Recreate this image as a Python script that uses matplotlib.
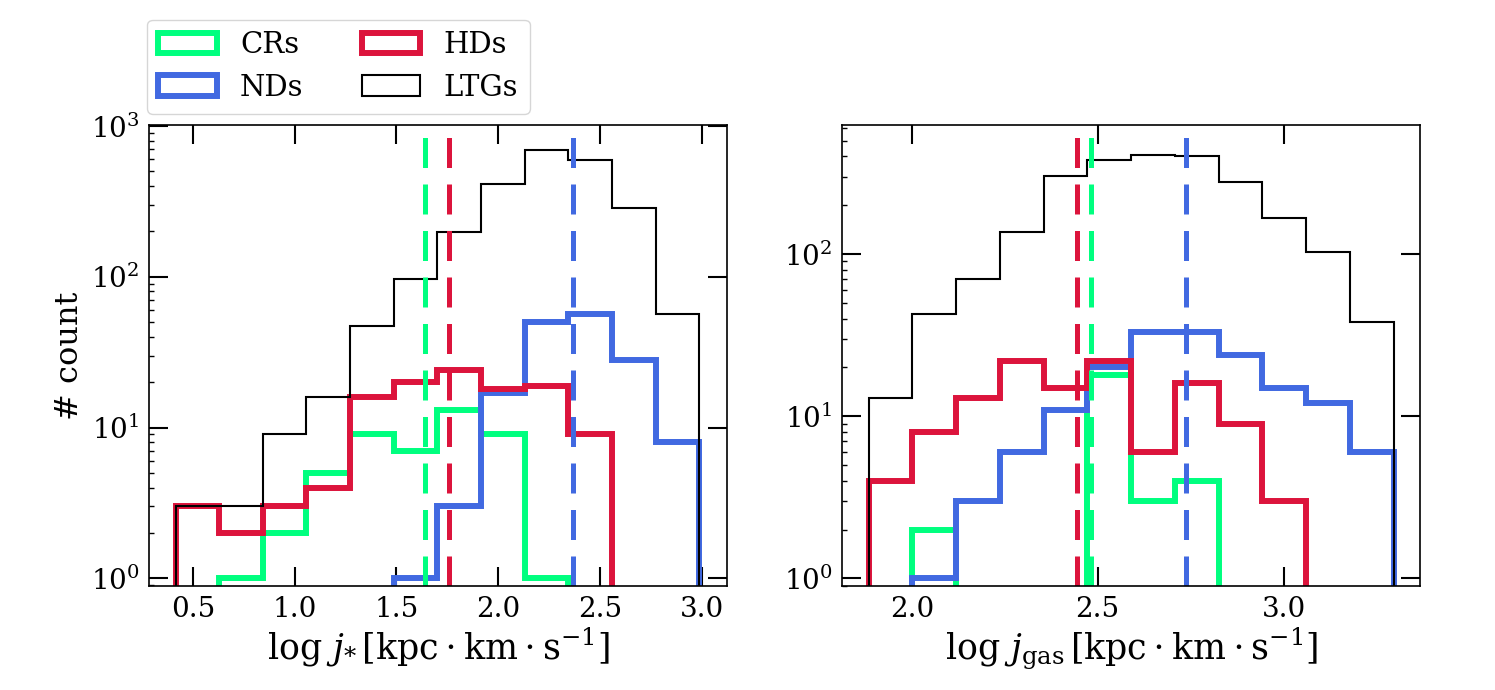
import numpy as np
import matplotlib
matplotlib.use('Agg')
import matplotlib.pyplot as plt

plt.rcParams['font.family'] = 'serif'
plt.rcParams['font.serif'] = ['DejaVu Serif']
plt.rcParams['mathtext.fontset'] = 'dejavuserif'

# histogram bins (log j_star, left) and (log j_gas, right)
jstar_lo, jstar_hi, nbins = 0.414, 2.989, 12
jgas_lo, jgas_hi = 1.884, 3.296

# counts per bin
jstar_crs = [0, 1, 2, 5, 9, 7, 13, 9, 1, 0, 0, 0]
jstar_nds = [0, 0, 0, 0, 0, 1, 3, 17, 50, 57, 28, 8]
jstar_hds = [3, 2, 3, 4, 16, 20, 24, 18, 19, 9, 0, 0]
jstar_ltgs = [3, 3, 9, 16, 47, 97, 198, 413, 689, 594, 286, 57]

jgas_crs = [0, 2, 0, 0, 0, 18, 3, 4, 0, 0, 0, 0]
jgas_nds = [0, 1, 3, 6, 11, 20, 33, 33, 24, 15, 12, 6]
jgas_hds = [4, 8, 13, 22, 15, 22, 6, 16, 9, 3, 0, 0]
jgas_ltgs = [13, 43, 70, 137, 302, 382, 410, 404, 277, 167, 103, 38]

# medians (dashed lines)
med_jstar = {'CRs': 1.639, 'HDs': 1.758, 'NDs': 2.369}
med_jgas = {'CRs': 2.481, 'HDs': 2.445, 'NDs': 2.738}

colors = {'CRs': 'springgreen', 'NDs': 'royalblue', 'HDs': 'crimson', 'LTGs': 'black'}


def draw_panel(ax, edges, series, medians):
    for name, counts in series:
        lw = 1.5 if name == 'LTGs' else 4.3
        ax.hist(edges[:-1], bins=edges, weights=counts, histtype='step',
                color=colors[name], lw=lw, label=name, log=True)
    for name in ['CRs', 'HDs', 'NDs']:
        ax.axvline(medians[name], color=colors[name], lw=3.6, dashes=(6, 3.3))
    ax.tick_params(which='major', direction='in', top=True, right=True,
                   length=13.5, width=1.5, labelsize=20, pad=7)
    ax.tick_params(which='minor', direction='in', left=True, right=False,
                   length=3.5, width=1)
    for sp in ax.spines.values():
        sp.set_linewidth(1.2)


fig, (ax1, ax2) = plt.subplots(1, 2, figsize=(14.95, 6.9), dpi=100)
fig.subplots_adjust(left=0.0997, right=0.9498, bottom=0.1507, top=0.8188, wspace=0.2)

edges_star = np.linspace(jstar_lo, jstar_hi, nbins + 1)
edges_gas = np.linspace(jgas_lo, jgas_hi, nbins + 1)

draw_panel(ax1, edges_star,
           [('CRs', jstar_crs), ('NDs', jstar_nds), ('HDs', jstar_hds), ('LTGs', jstar_ltgs)],
           med_jstar)
draw_panel(ax2, edges_gas,
           [('CRs', jgas_crs), ('NDs', jgas_nds), ('HDs', jgas_hds), ('LTGs', jgas_ltgs)],
           med_jgas)

ax1.set_xlim(0.284, 3.123)
ax1.set_ylim(0.89, 1015)
ax2.set_xlim(1.813, 3.367)
ax2.set_ylim(0.897, 625)

ax1.set_xlabel(r'$\log\, j_{*}\,[\mathrm{kpc \cdot km \cdot s^{-1}}]$', fontsize=25, labelpad=2)
ax2.set_xlabel(r'$\log\, j_{\rm gas}\,[\mathrm{kpc \cdot km \cdot s^{-1}}]$', fontsize=25, labelpad=2)
ax1.set_ylabel('# count', fontsize=23)

ax1.legend(loc='lower left', bbox_to_anchor=(-0.004, 1.025), borderaxespad=0,
           ncol=2, fontsize=21)

plt.savefig('out.png', dpi=100)
